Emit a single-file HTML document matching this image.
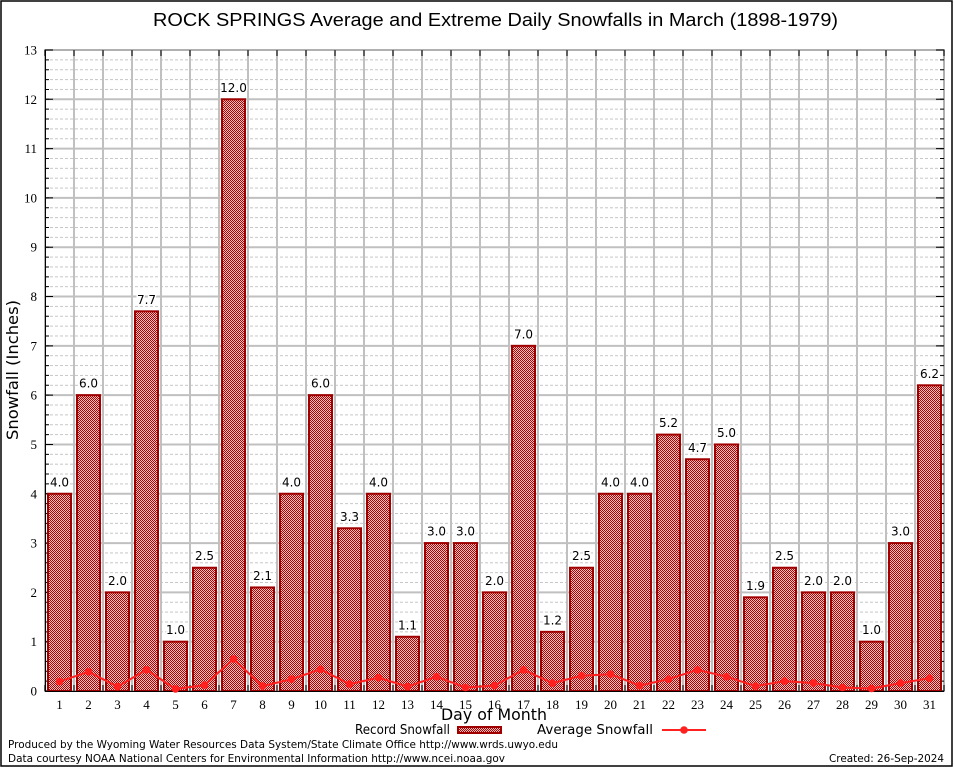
<!DOCTYPE html>
<html><head><meta charset="utf-8">
<style>
html,body{margin:0;padding:0;background:#fff;}
svg{display:block;}
.tk{font-family:"Liberation Serif","DejaVu Serif",serif;font-size:13px;fill:#000;}
.vl{font-family:"DejaVu Sans","Liberation Sans",sans-serif;font-size:12px;fill:#000;text-anchor:middle;paint-order:stroke;stroke:#fff;stroke-width:3px;}
.dj{font-family:"DejaVu Sans","Liberation Sans",sans-serif;fill:#000;}
</style></head>
<body>
<svg width="954" height="768" viewBox="0 0 954 768" xmlns="http://www.w3.org/2000/svg">
<defs>
<pattern id="chk" width="2" height="2" patternUnits="userSpaceOnUse">
<rect width="2" height="2" fill="#f2c4c4"/>
<rect width="1" height="1" fill="#b00000"/>
<rect x="1" y="1" width="1" height="1" fill="#b00000"/>
</pattern>
<pattern id="mg" patternUnits="userSpaceOnUse" x="45" y="690.5" width="5" height="9.8615">
<rect width="3" height="1" fill="#c6c6c6"/>
</pattern>
</defs>
<rect width="954" height="768" fill="#fff"/>
<rect x="1" y="1" width="951" height="765" fill="none" stroke="#000" stroke-width="1.5"/>

<text x="495.5" y="26" font-family="Liberation Sans, Arial, sans-serif" font-size="18" text-anchor="middle" textLength="685" lengthAdjust="spacingAndGlyphs">ROCK SPRINGS Average and Extreme Daily Snowfalls in March (1898-1979)</text>

<!-- grid -->
<rect x="45" y="50" width="899" height="641" fill="url(#mg)"/>
<line x1="494.5" y1="692" x2="494.5" y2="49" stroke="#c0c0c0" stroke-width="899" stroke-dasharray="2 47.3077"/>
<line x1="44" y1="370.5" x2="945" y2="370.5" stroke="#c0c0c0" stroke-width="641" stroke-dasharray="2 27"/>
<rect x="45" y="50" width="899" height="641" fill="none" stroke="#b0b0b0" stroke-width="2"/>

<!-- ticks -->
<line x1="47" y1="691.5" x2="47" y2="49" stroke="#000" stroke-width="4" stroke-dasharray="1 8.8615"/>
<line x1="49" y1="691.5" x2="49" y2="49" stroke="#000" stroke-width="8" stroke-dasharray="1 48.3077"/>
<line x1="942" y1="691.5" x2="942" y2="49" stroke="#000" stroke-width="4" stroke-dasharray="1 8.8615"/>
<line x1="940" y1="691.5" x2="940" y2="49" stroke="#000" stroke-width="8" stroke-dasharray="1 48.3077"/>
<line x1="44.5" y1="688" x2="945" y2="688" stroke="#000" stroke-width="6" stroke-dasharray="1 28"/>
<line x1="44.5" y1="53" x2="945" y2="53" stroke="#000" stroke-width="6" stroke-dasharray="1 28"/>
<line x1="45.5" y1="50" x2="45.5" y2="691" stroke="#000" stroke-width="1"/>

<!-- bars -->
<g fill="url(#chk)" stroke="#a00000" stroke-width="2">
<rect x="48" y="493.77" width="23" height="197.23"/>
<rect x="77" y="395.15" width="23" height="295.85"/>
<rect x="106" y="592.38" width="23" height="98.62"/>
<rect x="135" y="311.33" width="23" height="379.67"/>
<rect x="164" y="641.69" width="23" height="49.31"/>
<rect x="193" y="567.73" width="23" height="123.27"/>
<rect x="222" y="99.31" width="23" height="591.69"/>
<rect x="251" y="587.45" width="23" height="103.55"/>
<rect x="280" y="493.77" width="23" height="197.23"/>
<rect x="309" y="395.15" width="23" height="295.85"/>
<rect x="338" y="528.28" width="23" height="162.72"/>
<rect x="367" y="493.77" width="23" height="197.23"/>
<rect x="396" y="636.76" width="23" height="54.24"/>
<rect x="425" y="543.08" width="23" height="147.92"/>
<rect x="454" y="543.08" width="23" height="147.92"/>
<rect x="483" y="592.38" width="23" height="98.62"/>
<rect x="512" y="345.85" width="23" height="345.15"/>
<rect x="541" y="631.83" width="23" height="59.17"/>
<rect x="570" y="567.73" width="23" height="123.27"/>
<rect x="599" y="493.77" width="23" height="197.23"/>
<rect x="628" y="493.77" width="23" height="197.23"/>
<rect x="657" y="434.60" width="23" height="256.40"/>
<rect x="686" y="459.25" width="23" height="231.75"/>
<rect x="715" y="444.46" width="23" height="246.54"/>
<rect x="744" y="597.32" width="23" height="93.68"/>
<rect x="773" y="567.73" width="23" height="123.27"/>
<rect x="802" y="592.38" width="23" height="98.62"/>
<rect x="831" y="592.38" width="23" height="98.62"/>
<rect x="860" y="641.69" width="23" height="49.31"/>
<rect x="889" y="543.08" width="23" height="147.92"/>
<rect x="918" y="385.29" width="23" height="305.71"/>
</g>
<line x1="45" y1="691.5" x2="944" y2="691.5" stroke="#000" stroke-width="1"/>

<!-- average line -->
<polyline fill="none" stroke="#ff2020" stroke-width="2" stroke-linejoin="round" points="59.5,681.6 88.5,671.8 117.5,686.6 146.5,669.8 175.5,689.0 204.5,685.1 233.5,659.0 262.5,686.1 291.5,679.2 320.5,669.3 349.5,684.1 378.5,677.7 407.5,686.6 436.5,676.7 465.5,687.5 494.5,685.6 523.5,669.8 552.5,683.1 581.5,675.7 610.5,674.2 639.5,685.6 668.5,679.2 697.5,669.8 726.5,676.7 755.5,686.1 784.5,681.1 813.5,683.1 842.5,687.5 871.5,688.5 900.5,683.1 929.5,678.2"/>
<g fill="#ff2020">
<circle cx="59.5" cy="681.6" r="3.8"/><circle cx="88.5" cy="671.8" r="3.8"/><circle cx="117.5" cy="686.6" r="3.8"/><circle cx="146.5" cy="669.8" r="3.8"/><circle cx="175.5" cy="689.0" r="3.8"/><circle cx="204.5" cy="685.1" r="3.8"/><circle cx="233.5" cy="659.0" r="3.8"/><circle cx="262.5" cy="686.1" r="3.8"/><circle cx="291.5" cy="679.2" r="3.8"/><circle cx="320.5" cy="669.3" r="3.8"/><circle cx="349.5" cy="684.1" r="3.8"/><circle cx="378.5" cy="677.7" r="3.8"/><circle cx="407.5" cy="686.6" r="3.8"/><circle cx="436.5" cy="676.7" r="3.8"/><circle cx="465.5" cy="687.5" r="3.8"/><circle cx="494.5" cy="685.6" r="3.8"/><circle cx="523.5" cy="669.8" r="3.8"/><circle cx="552.5" cy="683.1" r="3.8"/><circle cx="581.5" cy="675.7" r="3.8"/><circle cx="610.5" cy="674.2" r="3.8"/><circle cx="639.5" cy="685.6" r="3.8"/><circle cx="668.5" cy="679.2" r="3.8"/><circle cx="697.5" cy="669.8" r="3.8"/><circle cx="726.5" cy="676.7" r="3.8"/><circle cx="755.5" cy="686.1" r="3.8"/><circle cx="784.5" cy="681.1" r="3.8"/><circle cx="813.5" cy="683.1" r="3.8"/><circle cx="842.5" cy="687.5" r="3.8"/><circle cx="871.5" cy="688.5" r="3.8"/><circle cx="900.5" cy="683.1" r="3.8"/><circle cx="929.5" cy="678.2" r="3.8"/>
</g>

<!-- value labels -->
<text class="vl" x="59.5" y="486.3">4.0</text>
<text class="vl" x="88.5" y="387.6">6.0</text>
<text class="vl" x="117.5" y="584.9">2.0</text>
<text class="vl" x="146.5" y="303.8">7.7</text>
<text class="vl" x="175.5" y="634.2">1.0</text>
<text class="vl" x="204.5" y="560.2">2.5</text>
<text class="vl" x="233.5" y="91.8">12.0</text>
<text class="vl" x="262.5" y="580.0">2.1</text>
<text class="vl" x="291.5" y="486.3">4.0</text>
<text class="vl" x="320.5" y="387.6">6.0</text>
<text class="vl" x="349.5" y="520.8">3.3</text>
<text class="vl" x="378.5" y="486.3">4.0</text>
<text class="vl" x="407.5" y="629.3">1.1</text>
<text class="vl" x="436.5" y="535.6">3.0</text>
<text class="vl" x="465.5" y="535.6">3.0</text>
<text class="vl" x="494.5" y="584.9">2.0</text>
<text class="vl" x="523.5" y="338.4">7.0</text>
<text class="vl" x="552.5" y="624.3">1.2</text>
<text class="vl" x="581.5" y="560.2">2.5</text>
<text class="vl" x="610.5" y="486.3">4.0</text>
<text class="vl" x="639.5" y="486.3">4.0</text>
<text class="vl" x="668.5" y="427.1">5.2</text>
<text class="vl" x="697.5" y="451.8">4.7</text>
<text class="vl" x="726.5" y="437.0">5.0</text>
<text class="vl" x="755.5" y="589.8">1.9</text>
<text class="vl" x="784.5" y="560.2">2.5</text>
<text class="vl" x="813.5" y="584.9">2.0</text>
<text class="vl" x="842.5" y="584.9">2.0</text>
<text class="vl" x="871.5" y="634.2">1.0</text>
<text class="vl" x="900.5" y="535.6">3.0</text>
<text class="vl" x="929.5" y="377.8">6.2</text>

<!-- y tick labels -->
<g class="tk" text-anchor="end">
<text x="37" y="695.5">0</text>
<text x="37" y="646.2">1</text>
<text x="37" y="596.9">2</text>
<text x="37" y="547.6">3</text>
<text x="37" y="498.3">4</text>
<text x="37" y="449.0">5</text>
<text x="37" y="399.7">6</text>
<text x="37" y="350.4">7</text>
<text x="37" y="301.0">8</text>
<text x="37" y="251.7">9</text>
<text x="37" y="202.4">10</text>
<text x="37" y="153.1">11</text>
<text x="37" y="103.8">12</text>
<text x="37" y="54.5">13</text>
</g>

<!-- x tick labels -->
<g class="tk" text-anchor="middle">
<text x="59.5" y="709">1</text><text x="88.5" y="709">2</text><text x="117.5" y="709">3</text><text x="146.5" y="709">4</text><text x="175.5" y="709">5</text><text x="204.5" y="709">6</text><text x="233.5" y="709">7</text><text x="262.5" y="709">8</text><text x="291.5" y="709">9</text><text x="320.5" y="709">10</text><text x="349.5" y="709">11</text><text x="378.5" y="709">12</text><text x="407.5" y="709">13</text><text x="436.5" y="709">14</text><text x="465.5" y="709">15</text><text x="494.5" y="709">16</text><text x="523.5" y="709">17</text><text x="552.5" y="709">18</text><text x="581.5" y="709">19</text><text x="610.5" y="709">20</text><text x="639.5" y="709">21</text><text x="668.5" y="709">22</text><text x="697.5" y="709">23</text><text x="726.5" y="709">24</text><text x="755.5" y="709">25</text><text x="784.5" y="709">26</text><text x="813.5" y="709">27</text><text x="842.5" y="709">28</text><text x="871.5" y="709">29</text><text x="900.5" y="709">30</text><text x="929.5" y="709">31</text>
</g>

<!-- axis titles -->
<text class="dj" x="494" y="720" font-size="16" text-anchor="middle" textLength="106" lengthAdjust="spacingAndGlyphs">Day of Month</text>
<text class="dj" transform="translate(18,370) rotate(-90)" font-size="16" text-anchor="middle" textLength="140" lengthAdjust="spacingAndGlyphs">Snowfall (Inches)</text>

<!-- legend -->
<text class="dj" x="450" y="734" font-size="13" text-anchor="end" textLength="95" lengthAdjust="spacingAndGlyphs">Record Snowfall</text>
<rect x="458" y="727" width="43" height="6" fill="url(#chk)" stroke="#a00000" stroke-width="2"/>
<text class="dj" x="537" y="734" font-size="13" textLength="116" lengthAdjust="spacingAndGlyphs">Average Snowfall</text>
<line x1="662" y1="730" x2="706" y2="730" stroke="#ff2020" stroke-width="2"/>
<circle cx="684" cy="730" r="3.8" fill="#ff2020"/>

<!-- footer -->
<text class="dj" x="8" y="748" font-size="11" textLength="550" lengthAdjust="spacingAndGlyphs">Produced by the Wyoming Water Resources Data System/State Climate Office http://www.wrds.uwyo.edu</text>
<text class="dj" x="8" y="762" font-size="11" textLength="497" lengthAdjust="spacingAndGlyphs">Data courtesy NOAA National Centers for Environmental Information http://www.ncei.noaa.gov</text>
<text class="dj" x="944" y="762" font-size="11" text-anchor="end" textLength="115" lengthAdjust="spacingAndGlyphs">Created: 26-Sep-2024</text>
</svg>
</body></html>
